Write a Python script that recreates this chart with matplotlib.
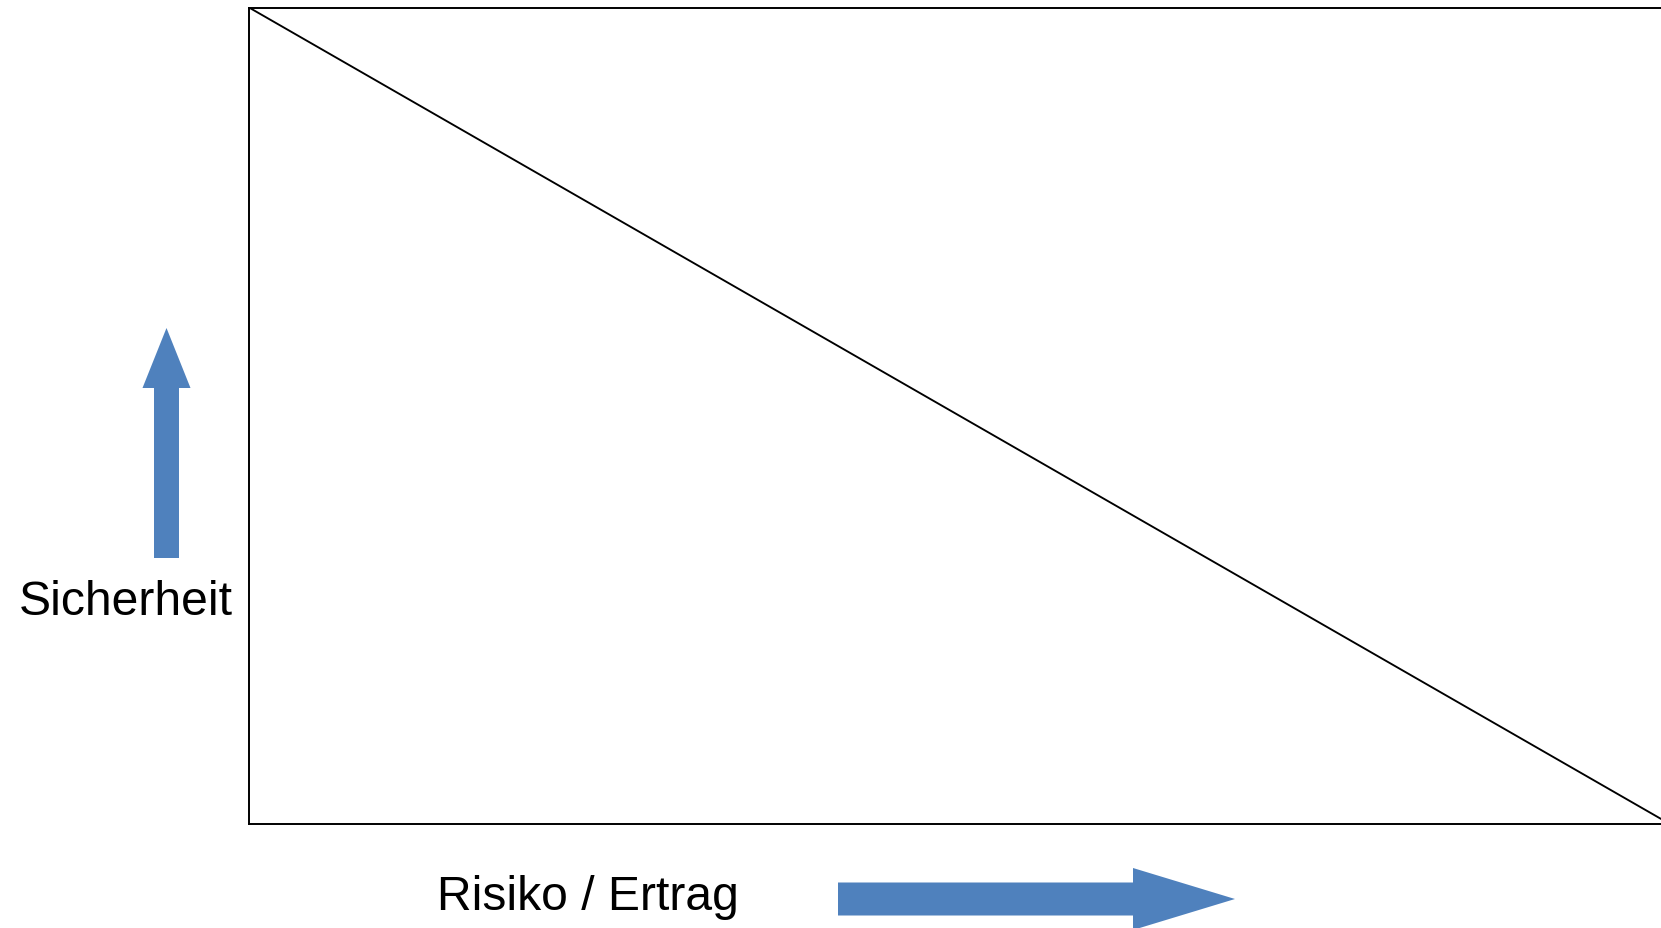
import matplotlib
matplotlib.use("Agg")
import matplotlib.pyplot as plt
from matplotlib.patches import FancyArrow

# Data: the diagonal trade-off line (Sicherheit falls as Risiko / Ertrag rises)
risk_return = [0.0, 1.0]
safety = [1.0, 0.0]
x_label = "Risiko / Ertrag"
y_label = "Sicherheit"

W, H, DPI = 1661, 929, 100
fig = plt.figure(figsize=(W / DPI, H / DPI), dpi=DPI)
fig.patch.set_facecolor("white")

# main axes box (right edge slightly outside the picture, as in the reference)
left_px, right_px, top_px, bottom_px = 249, 1669, 8.5, 824.5
ax = fig.add_axes([left_px / W, 1 - bottom_px / H,
                   (right_px - left_px) / W, (bottom_px - top_px) / H])
ax.plot(risk_return, safety, color="black", lw=1.35, solid_capstyle="butt")
ax.set_xlim(0, 1)
ax.set_ylim(0, 1)
ax.set_xticks([])
ax.set_yticks([])
for s in ax.spines.values():
    s.set_linewidth(1.4)
    s.set_color("black")

# overlay in pixel coordinates for the arrows and labels
ov = fig.add_axes([0, 0, 1, 1], zorder=-1)
ov.set_xlim(0, W)
ov.set_ylim(H, 0)
ov.axis("off")

blue = "#4F81BD"
up = FancyArrow(166.5, 559, 0, -230, width=25, head_width=48, head_length=60,
                length_includes_head=True, color=blue, lw=0)
right = FancyArrow(838, 900, 397, 0, width=33, head_width=62, head_length=102,
                   length_includes_head=True, color=blue, lw=0)
ov.add_patch(up)
ov.add_patch(right)

ov.text(19, 615, y_label, fontsize=34.7, family=["Liberation Sans", "DejaVu Sans"],
        ha="left", va="baseline", color="black")
ov.text(437, 910, x_label, fontsize=34.6, family=["Liberation Sans", "DejaVu Sans"],
        ha="left", va="baseline", color="black")

fig.savefig("out.png", dpi=DPI, facecolor="white")
